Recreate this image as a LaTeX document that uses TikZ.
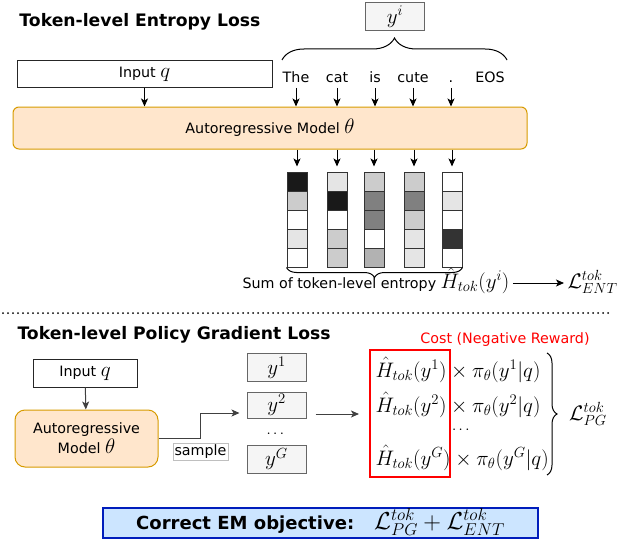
\RequirePackage{fix-cm}
\documentclass[tikz,border=0pt]{standalone}
\usepackage{amsmath}
\usepackage[no-math]{fontspec}
\setmainfont{DejaVu Sans}[Scale=0.68]
\usetikzlibrary{arrows.meta, decorations.pathreplacing, calc}

\definecolor{modelfill}{HTML}{FFE6CC}
\definecolor{modelline}{HTML}{D79B00}
\definecolor{seqfill}{HTML}{F5F5F5}
\definecolor{seqline}{HTML}{666666}
\definecolor{emfill}{HTML}{CCE5FF}
\definecolor{emline}{HTML}{001DBC}

\begin{document}
\begin{tikzpicture}[x=1pt, y=-1pt,
  font=\fontsize{21}{25}\selectfont,
  >={Stealth[length=8pt, width=7pt, inset=2pt]},
  line width=1pt,
  title/.style={font=\fontsize{25.3}{30}\selectfont\bfseries, anchor=base west, inner sep=0},
  inbox/.style={draw=black!85, minimum height=27pt, inner sep=0},
  model/.style={draw=modelline, fill=modelfill, rounded corners=6pt, inner sep=0},
  word/.style={anchor=base, inner sep=0, text depth=0pt},
  cell/.style={draw=black!80, minimum width=20pt, minimum height=19pt, inner sep=0},
  seq/.style={draw=seqline, fill=seqfill, minimum width=59pt, minimum height=28pt, inner sep=0},
  brc/.style={decorate, decoration={brace, amplitude=#1}}
]
  \useasboundingbox (0,0) rectangle (624,551);

  % Token-level entropy loss
  \node[title] (t1) at (19,27) {Token-level Entropy Loss};
  \node[inbox, minimum width=255pt] (in1) at (144.5,74.5) {Input $q$};
  \node[seq] (yi) at (395,17) {$y^i$};
  \foreach \w/\wx [count=\i] in {The/296, cat/337, is/375, cute/413, ./451, EOS/490}
    \node[word] (w\i) at (\wx,82) {\w};
  \draw[brc=22pt] (282,60) -- (507,60);

  \node[model, minimum width=514pt, minimum height=42pt] (m1) at (270,128) {Autoregressive Model $\theta$};
  \draw[->] (in1) -- (in1 |- m1.north);
  \foreach \i in {1,...,5}
    \draw[->] ([yshift=-6pt]w\i.base) -- (w\i.base |- m1.north);

  % distributions over the vocabulary
  \foreach \cx/\gl [count=\i] in {297/{90,20,0,10,0}, 337/{10,90,0,20,20}, 374/{20,50,50,0,30}, 414/{20,50,20,10,10}, 452/{0,10,0,80,0}} {
    \foreach \g [count=\j] in \gl
      \node[cell, fill=black!\g] (c\i-\j) at (\cx,{162.5+19*\j}) {};
    \draw[->, shorten >=5pt] (m1.south -| c\i-1) -- (c\i-1.north);
  }
  \draw[brc=10pt] (c5-5.south east) -- (c1-5.south west);

  \node[anchor=base west, inner sep=0] (sum) at (242,288) {Sum of token-level entropy $\hat{H}_{tok}(y^i)$};
  \node[anchor=base west, inner sep=0] (lent) at (567,288) {$\mathcal{L}_{ENT}^{tok}$};
  \draw[->] ([shift={(3pt,5pt)}]sum.base east) -- ([shift={(-3pt,5pt)}]lent.base west);

  \draw[line width=2pt, line cap=round, dash pattern=on 0pt off 5pt] (3,313) -- (612,313);

  % Token-level policy gradient loss
  \node[title] (t2) at (17,339) {Token-level Policy Gradient Loss};
  \node[inbox, minimum width=104pt, minimum height=28pt] (in2) at (85,373) {Input $q$};
  \node[model, rounded corners=10pt, minimum width=143pt, minimum height=57pt, align=center,
    font=\fontsize{21}{20}\selectfont] (m2) at (86.5,438.5) {Autoregressive\\Model $\theta$};
  \draw[->, color=black!75] (in2) -- (m2);

  \node[seq] (y1) at (276.5,367.5) {$y^1$};
  \node[seq, minimum height=26pt] (y2) at (276.5,405) {$y^2$};
  \node[font=\fontsize{15}{18}\selectfont] (ydots) at (276.5,434) {$\cdots$};
  \node[seq] (yG) at (276.5,459) {$y^G$};

  \coordinate (bend) at (200,413);
  \draw[->, color=black!75, shorten >=7pt] (m2.east) -| (bend) -- (bend -| y2.west);
  \node[draw=black!25, fill=white, inner sep=1.5pt, line width=0.8pt] (smp) at (200.5,451.5) {sample};

  \node[draw=red, line width=2pt, minimum width=80pt, minimum height=127pt, inner sep=0] (cost) at (410,413.5) {};
  \node[text=red, anchor=base] (costlbl) at (505,343) {Cost (Negative Reward)};
  \node[anchor=base west, inner sep=0] (r1) at (375,377) {$\hat{H}_{tok}(y^1) \times \pi_\theta(y^1|q)$};
  \node[anchor=base west, inner sep=0] (r2) at (375,412) {$\hat{H}_{tok}(y^2) \times \pi_\theta(y^2|q)$};
  \node[font=\fontsize{15}{18}\selectfont] (rdots) at (462,430) {$\cdots$};
  \node[anchor=base west, inner sep=0] (rG) at (375,465) {$\hat{H}_{tok}(y^G) \times \pi_\theta(y^G|q)$};
  \draw[->, color=black!75, shorten <=9pt, shorten >=10pt] ([yshift=-9pt]y2.east) -- ([yshift=-9pt]y2.east -| cost.west);

  \draw[brc=10pt] (547,353) -- (547,475);
  \node (lpg) at (588,414) {$\mathcal{L}_{PG}^{tok}$};

  % objective
  \node[draw=emline, fill=emfill, line width=2pt, minimum width=435pt, minimum height=30pt, inner sep=0,
    text height=16pt, text depth=4pt] (em) at (320.5,523)
    {{\fontsize{26.5}{30}\selectfont\bfseries Correct EM objective:}\hspace{20pt}{\fontsize{24.5}{28}\selectfont$\mathcal{L}_{PG}^{tok}+\mathcal{L}_{ENT}^{tok}$}};
\end{tikzpicture}
\end{document}
